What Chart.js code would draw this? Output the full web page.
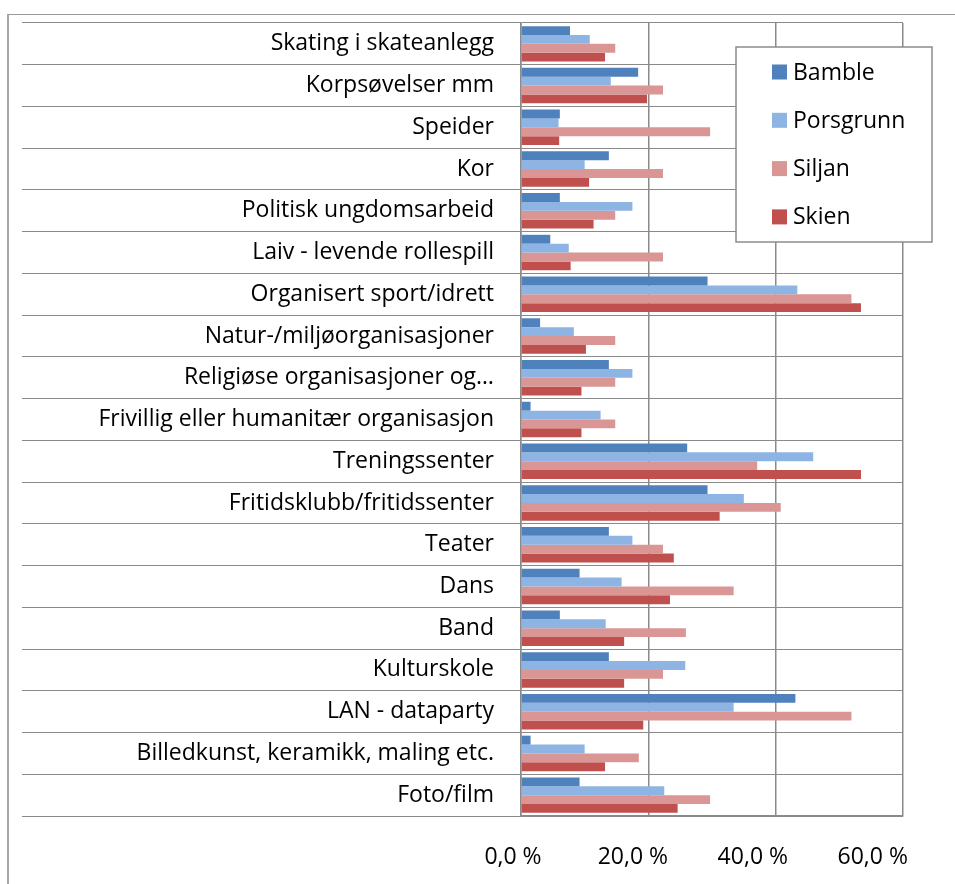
<!DOCTYPE html>
<html>
<head>
<meta charset="utf-8">
<script src="https://cdn.jsdelivr.net/npm/chart.js@4"></script>
<style>
  html, body { margin: 0; padding: 0; background: #fff; }
  #wrap { position: relative; width: 955px; height: 884px; overflow: hidden; }
  #frame { position: absolute; left: 7px; top: 14px; width: 1000px; height: 1000px;
           border-left: 2px solid #a6a6a6; border-top: 1px solid #9a9a9a; }
  canvas { position: absolute; left: 0; top: 0; }
</style>
</head>
<body>
<div id="wrap">
  <div id="frame"></div>
  <canvas id="c" width="955" height="884"></canvas>
</div>
<script>
const categories = [
  "Skating i skateanlegg",
  "Korpsøvelser mm",
  "Speider",
  "Kor",
  "Politisk ungdomsarbeid",
  "Laiv - levende rollespill",
  "Organisert sport/idrett",
  "Natur-/miljøorganisasjoner",
  "Religiøse organisasjoner og…",
  "Frivillig eller humanitær organisasjon",
  "Treningssenter",
  "Fritidsklubb/fritidssenter",
  "Teater",
  "Dans",
  "Band",
  "Kulturskole",
  "LAN - dataparty",
  "Billedkunst, keramikk, maling etc.",
  "Foto/film"
];
const seriesNames = ["Bamble", "Porsgrunn", "Siljan", "Skien"];
const bamble    = [7.7, 18.4, 6.1, 13.8, 6.1, 4.6, 29.3, 3.0, 13.8, 1.5, 26.1, 29.3, 13.8, 9.2, 6.1, 13.8, 43.1, 1.5, 9.2];
const porsgrunn = [10.8, 14.1, 5.9, 10.0, 17.5, 7.5, 43.4, 8.3, 17.5, 12.5, 45.9, 35.0, 17.5, 15.8, 13.3, 25.8, 33.4, 10.0, 22.5];
const siljan    = [14.8, 22.3, 29.7, 22.3, 14.8, 22.3, 51.9, 14.8, 14.8, 14.8, 37.1, 40.8, 22.3, 33.4, 25.9, 22.3, 51.9, 18.5, 29.7];
const skien     = [13.2, 19.8, 6.0, 10.7, 11.4, 7.8, 53.4, 10.2, 9.5, 9.5, 53.4, 31.2, 24.0, 23.4, 16.2, 16.2, 19.2, 13.2, 24.6];
const xTickValues = [0, 20, 40, 60];
const colors = ["#4F81BD", "#8EB4E3", "#D99694", "#C0504D"];

const FONT = "'Open Sans', 'Noto Sans', sans-serif";
const FSIZE = 23;

const legendPlugin = {
  id: 'boxLegend',
  afterDraw(chart) {
    const ctx = chart.ctx;
    const bx = 736, by = 47, bw = 196, bh = 195;
    ctx.save();
    ctx.fillStyle = '#fff';
    ctx.fillRect(bx, by, bw, bh);
    ctx.strokeStyle = '#8c8c8c';
    ctx.lineWidth = 1.5;
    ctx.strokeRect(bx, by, bw, bh);
    ctx.font = FSIZE + "px " + FONT;
    ctx.textBaseline = 'middle';
    ctx.textAlign = 'left';
    chart.data.datasets.forEach((ds, i) => {
      const cy = 72 + i * 48.3;
      ctx.fillStyle = ds.backgroundColor;
      ctx.fillRect(772, cy - 7.5, 15, 15);
      ctx.fillStyle = '#000';
      ctx.fillText(ds.label, 793, cy + 1);
    });
    ctx.restore();
  }
};

new Chart(document.getElementById('c'), {
  type: 'bar',
  data: {
    labels: categories,
    datasets: [bamble, porsgrunn, siljan, skien].map((d, i) => ({
      label: seriesNames[i],
      data: d,
      backgroundColor: colors[i],
      borderWidth: 0,
      barPercentage: 1.0,
      categoryPercentage: 0.85,
      xAxisID: 'x'
    }))
  },
  options: {
    indexAxis: 'y',
    responsive: false,
    animation: false,
    layout: { padding: { top: 23, right: 52, left: 0, bottom: 0 } },
    plugins: { legend: { display: false }, tooltip: { enabled: false } },
    scales: {
      y: {
        type: 'category',
        position: 'left',
        afterFit(s) { s.width = 521; },
        grid: { offset: true, color: '#8a8a8a', lineWidth: 1, drawTicks: true, tickLength: 499 },
        border: { display: true, color: '#8a8a8a', width: 1.5 },
        ticks: { padding: -472, color: '#000', font: { family: FONT, size: FSIZE }, autoSkip: false }
      },
      x: {
        type: 'linear',
        position: 'bottom',
        min: 0, max: 60,
        afterFit(s) { s.height = 0; },
        afterBuildTicks(s) { s.ticks = xTickValues.map(v => ({ value: v })); },
        grid: { color: '#8a8a8a', lineWidth: 1.5, drawTicks: false },
        border: { display: true, color: '#8a8a8a', width: 1.5 },
        ticks: { display: false }
      },
      x2: {
        type: 'linear',
        position: 'bottom',
        min: 1.333, max: 65.05,
        afterFit(s) { s.height = 68; },
        afterBuildTicks(s) { s.ticks = xTickValues.map(v => ({ value: v })); },
        grid: { display: false, drawTicks: false },
        border: { display: false },
        ticks: {
          autoSkip: false,
          padding: 28,
          color: '#000',
          font: { family: FONT, size: FSIZE },
          callback: v => v.toFixed(1).replace('.', ',') + ' %'
        }
      }
    }
  },
  plugins: [legendPlugin]
});
</script>
</body>
</html>
